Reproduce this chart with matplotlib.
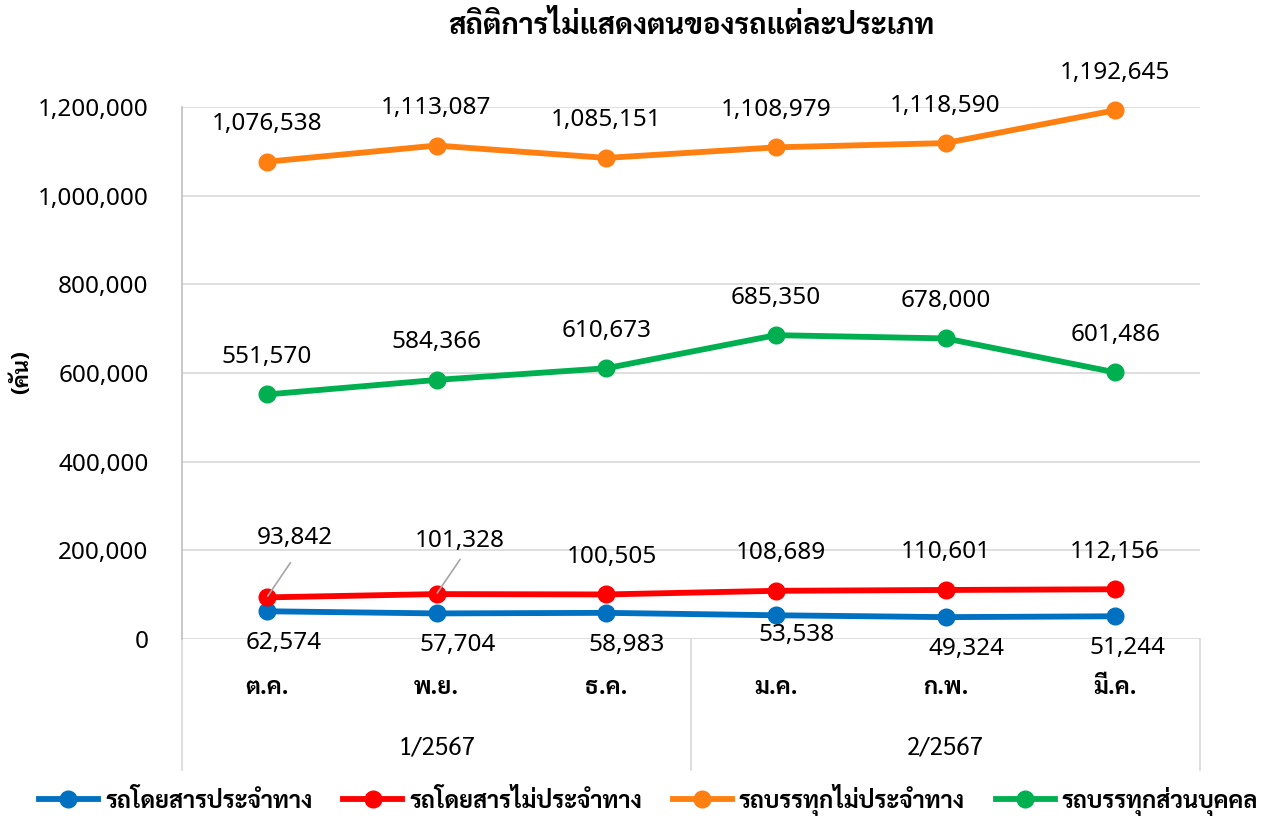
import matplotlib
matplotlib.use('Agg')
import matplotlib.pyplot as plt
from matplotlib.lines import Line2D
from matplotlib.ticker import FuncFormatter

# ---- data ----
months = ['ต.ค.', 'พ.ย.', 'ธ.ค.', 'ม.ค.', 'ก.พ.', 'มี.ค.']
groups = ['1/2567', '2/2567']
series_names = ['รถโดยสารประจำทาง', 'รถโดยสารไม่ประจำทาง', 'รถบรรทุกไม่ประจำทาง', 'รถบรรทุกส่วนบุคคล']
bus_fixed = [62574, 57704, 58983, 53538, 49324, 51244]
bus_nonfixed = [93842, 101328, 100505, 108689, 110601, 112156]
truck_nonfixed = [1076538, 1113087, 1085151, 1108979, 1118590, 1192645]
truck_private = [551570, 584366, 610673, 685350, 678000, 601486]
yticks = [0, 200000, 400000, 600000, 800000, 1000000, 1200000]
title = 'สถิติการไม่แสดงตนของรถแต่ละประเภท'
ylabel = '(คัน)'

colors = ['#0070C0', '#FF0000', '#FF7F10', '#00B050']

THAI_TITLE = ['Sarabun', 'Noto Sans Thai', 'DejaVu Sans']
THAI_COND = ['Sarabun', 'Noto Sans Thai', 'DejaVu Sans']
NUM = ['Noto Sans', 'DejaVu Sans']

fig = plt.figure(figsize=(12.64, 8.16), dpi=100)
W, H = 1264, 816
left, right, y0, y1 = 182, 1200, 639, 107
ax = fig.add_axes([left / W, 1 - y0 / H, (right - left) / W, (y0 - y1) / H])

x = list(range(len(months)))
all_series = [bus_fixed, bus_nonfixed, truck_nonfixed, truck_private]
for vals, c, name in zip(all_series, colors, series_names):
    ax.plot(x, vals, color=c, lw=4.2, marker='o', ms=12, solid_capstyle='round',
            label=name, zorder=3, clip_on=False)

ax.set_xlim(-0.5, len(months) - 0.5)
ax.set_ylim(0, 1200000)
ax.set_yticks(yticks)
ax.yaxis.set_major_formatter(FuncFormatter(lambda v, p: f'{int(v):,}'))
for lab in ax.get_yticklabels():
    lab.set_family(NUM)
    lab.set_fontsize(17.5)
    lab.set_color('#000000')
ax.tick_params(axis='y', length=0, pad=24)
ax.set_xticks([])
ax.grid(axis='y', color='#D9D9D9', lw=1.2)
ax.set_axisbelow(True)
for s in ['top', 'right', 'bottom']:
    ax.spines[s].set_visible(False)
ax.spines['left'].set_color('#BFBFBF')
ax.spines['left'].set_linewidth(1.2)

# data labels
lab_kw = dict(textcoords='offset points', ha='center', va='center',
              fontsize=17.5, family=NUM, color='#000000', annotation_clip=False)
for i, v in enumerate(truck_nonfixed):
    ax.annotate(f'{v:,}', (i, v), xytext=(0, 27), **lab_kw)
for i, v in enumerate(truck_private):
    ax.annotate(f'{v:,}', (i, v), xytext=(0, 27), **lab_kw)
red_off = [(20, 43), (17, 38), (4, 27), (4, 27), (0, 27), (0, 27)]
for i, v in enumerate(bus_nonfixed):
    ax.annotate(f'{v:,}', (i, v), xytext=red_off[i], **lab_kw)
for i in range(2):
    ax.annotate('', (x[i], bus_nonfixed[i]), xytext=(17, 25), textcoords='offset points',
                arrowprops=dict(arrowstyle='-', color='#A6A6A6', lw=1.2, shrinkA=0, shrinkB=1),
                annotation_clip=False)
blue_off = [(12, -23), (15, -23), (15, -23), (15, -14), (15, -23), (9, -23)]
for i, v in enumerate(bus_fixed):
    ax.annotate(f'{v:,}', (i, v), xytext=blue_off[i], **lab_kw)

# multi-level category axis
def fy(py):
    return -(py - y0) / (y0 - y1)

for xa in [0, 0.5, 1.0]:
    ax.plot([xa, xa], [0, fy(770)], transform=ax.transAxes, color='#D9D9D9', lw=1.2, clip_on=False)
trans = ax.get_xaxis_transform()
for i, m in enumerate(months):
    ax.text(i, fy(688), m, transform=trans, ha='center', va='center', fontsize=17,
            fontweight='bold', family=THAI_COND)
for gi, g in enumerate(groups):
    ax.text(1 + 3 * gi, fy(748), g, transform=trans, ha='center', va='center', fontsize=17.5,
            family=THAI_COND)

fig.text((left + right) / 2 / W, 1 - 27 / H, title, ha='center', va='center', fontsize=21,
         fontweight='bold', family=THAI_TITLE)
fig.text(22 / W, 1 - 372 / H, ylabel, ha='center', va='center', rotation=90, fontsize=16,
         fontweight='bold', family=THAI_TITLE)

handles = [Line2D([], [], color=c, lw=4.2, marker='o', ms=12) for c in colors]
leg = fig.legend(handles, series_names, loc='center', bbox_to_anchor=(648.5 / W, 1 - 800 / H),
                 ncol=4, frameon=False, handlelength=2.5, columnspacing=1.3, handletextpad=0.3,
                 prop=dict(family=THAI_COND, size=17, weight='bold'))

fig.savefig('out.png', dpi=100)
